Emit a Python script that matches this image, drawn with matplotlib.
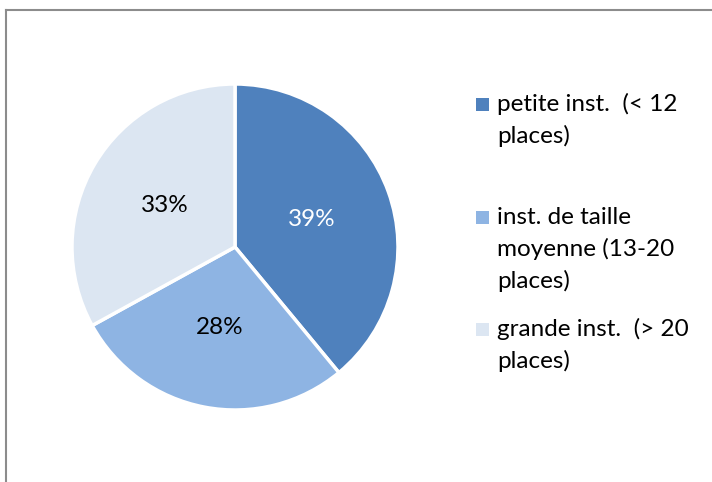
import matplotlib
matplotlib.use("Agg")
import matplotlib.pyplot as plt
from matplotlib.lines import Line2D
from matplotlib.patches import Rectangle

categories = ["petite inst.  (< 12\nplaces)",
              "inst. de taille\nmoyenne (13-20\nplaces)",
              "grande inst.  (> 20\nplaces)"]
values = [39, 28, 33]
colors = ["#4F81BD", "#8EB4E3", "#DCE6F2"]
label_colors = ["white", "black", "black"]

W, H = 712, 482
fig = plt.figure(figsize=(W / 100, H / 100), dpi=100)
fig.patch.set_facecolor("white")
plt.rcParams['font.family'] = ['Lato', 'DejaVu Sans']

cx, cy, r = 235, 247, 163
ax = fig.add_axes([(cx - r) / W, (H - cy - r) / H, 2 * r / W, 2 * r / H])
wedges, texts, autotexts = ax.pie(values, colors=colors, startangle=90, counterclock=False,
                                  autopct=lambda p: f"{p:.0f}%", pctdistance=0.5,
                                  wedgeprops=dict(edgecolor="white", linewidth=2.5),
                                  textprops=dict(fontsize=17.5))
for t, c in zip(autotexts, label_colors):
    t.set_color(c)
ax.set_xlim(-1.0, 1.0)
ax.set_ylim(-1.0, 1.0)
ax.set_aspect("equal")
ax.axis("off")

# border (left and top)
fig.add_artist(Line2D([6 / W, 6 / W], [0, 1 - 10 / H], transform=fig.transFigure, color="#8c8c8c", lw=1.5))
fig.add_artist(Line2D([6 / W, 1], [1 - 10 / H, 1 - 10 / H], transform=fig.transFigure, color="#8c8c8c", lw=1.5))

# legend
entry_tops = [104, 217, 329]
line_h = 32
for lab, col, yt in zip(categories, colors, entry_tops):
    fig.add_artist(Rectangle((476 / W, 1 - (yt + 7) / H), 13 / W, 13 / H,
                             transform=fig.transFigure, facecolor=col, edgecolor="none"))
    for i, line in enumerate(lab.split("\n")):
        fig.text(497 / W, 1 - (yt + i * line_h) / H, line, fontsize=17.5,
                 ha="left", va="center", color="black")

fig.savefig("out.png", dpi=100, facecolor="white")
